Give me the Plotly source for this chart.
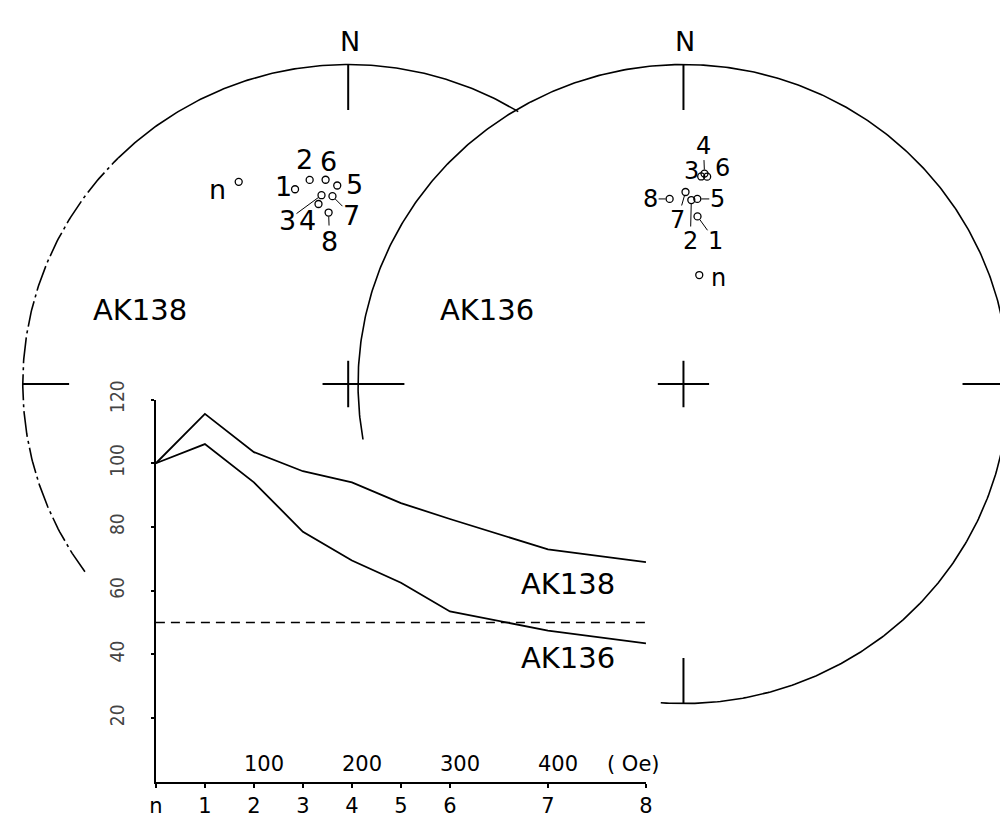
import numpy as np
import plotly.graph_objects as go

# ---------------- data ----------------
steps = ["n", "1", "2", "3", "4", "5", "6", "7", "8"]
field_oe = [0, 50, 100, 150, 200, 250, 300, 400, 500]          # AF field of each step (Oe)
ak138_intensity = [100, 115.5, 103.5, 97.5, 94, 87.5, 82.5, 73, 69]
ak136_intensity = [100, 106, 94, 78.5, 69.5, 62.5, 53.5, 47.5, 43.5]
half_level = 50
oe_ticks = [100, 200, 300, 400]
y_ticks = [20, 40, 60, 80, 100, 120]

# directions (declination, inclination) per step n,1..8
ak138_dec = [332.0, 345.0, 349.5, 352.1, 350.8, 356.9, 353.8, 355.3, 353.6]
ak138_inc = [29.1, 37.0, 35.3, 40.1, 42.4, 37.8, 35.9, 40.7, 45.1]
ak136_dec = [8.1, 4.7, 2.4, 4.8, 5.6, 4.2, 6.4, 0.6, 355.8]
ak136_inc = [61.8, 46.3, 41.9, 35.1, 34.2, 41.5, 35.0, 39.7, 41.5]

# ---------------- layout constants (pixels) ----------------
W, H = 1007, 818
NET1 = dict(cx=346, cy=377, R=330)     # AK138 net
NET2 = dict(cx=686, cy=377, R=330)     # AK136 net
TICK = 47
FONT = "DejaVu Sans, Liberation Sans, sans-serif"

# label offsets (dx, dy in px, leader line?) for step labels
off138 = [(-21, 8, False), (-12, -3, False), (-5, -20, True), (-34, 25, True), (-11, 16, False),
          (17, -1, False), (3, -18, False), (19, 19, True), (1, 29, True)]
off136 = [(19, 3, False), (18, 25, True), (-1, 41, True), (-10, -5, False), (-1, -28, True),
          (20, 0, True), (15, -9, False), (-8, 28, True), (-19, 0, True)]


def project(net, dec, inc):
    dec = np.radians(np.asarray(dec, float))
    inc = np.radians(np.asarray(inc, float))
    rho = net["R"] * np.sqrt(2) * np.sin((np.pi / 2 - np.abs(inc)) / 2)
    return net["cx"] + rho * np.sin(dec), net["cy"] - rho * np.cos(dec)


def arc(net, d0, d1):
    d = np.radians(np.arange(d0, d1 + 0.25, 0.5))
    return net["cx"] + net["R"] * np.sin(d), net["cy"] - net["R"] * np.cos(d)


def ticks(net, which, cross=True):
    xs, ys = [], []
    cx, cy, R = net["cx"], net["cy"], net["R"]
    for w in which:
        d = {"N": 0, "E": 90, "S": 180, "W": 270}[w]
        s, c = np.sin(np.radians(d)), np.cos(np.radians(d))
        xs += [cx + R * s, cx + (R - TICK) * s, None]
        ys += [cy - R * c, cy - (R - TICK) * c, None]
    if cross:
        xs += [cx - 26, cx + 26, None, cx, cx, None]
        ys += [cy, cy, None, cy - 24, cy + 24, None]
    return xs, ys


fig = go.Figure()
line_k = dict(color="black", width=1.6)

# ---- stereonet primitives ----
x, y = arc(NET1, -45, 31.5)
fig.add_trace(go.Scatter(x=x, y=y, mode="lines", line=line_k, hoverinfo="skip"))
x, y = arc(NET1, -126, -45)
fig.add_trace(go.Scatter(x=x, y=y, mode="lines", line=dict(color="black", width=1.6, dash="26px,4px,3px,4px"),
                         hoverinfo="skip"))
x, y = arc(NET2, -100, 184)
fig.add_trace(go.Scatter(x=x, y=y, mode="lines", line=line_k, hoverinfo="skip"))
x, y = ticks(NET1, ["N", "W"])
fig.add_trace(go.Scatter(x=x, y=y, mode="lines", line=dict(color="black", width=2), hoverinfo="skip"))
x, y = ticks(NET2, ["N", "E", "S", "W"])
fig.add_trace(go.Scatter(x=x, y=y, mode="lines", line=dict(color="black", width=2), hoverinfo="skip"))

# ---- stereonet data points ----
annotations = []
for net, dec, inc, offs, fs in [(NET1, ak138_dec, ak138_inc, off138, 27),
                                (NET2, ak136_dec, ak136_inc, off136, 24)]:
    px, py = project(net, dec, inc)
    fig.add_trace(go.Scatter(x=px, y=py, mode="markers", text=steps,
                             marker=dict(symbol="circle-open", size=7, color="black", line=dict(width=1.3)),
                             hoverinfo="text"))
    for lab, xx, yy, (dx, dy, lead) in zip(steps, px, py, offs):
        a = dict(x=xx, y=yy, xref="x", yref="y", text=lab, font=dict(size=fs, family=FONT, color="black"))
        if lead:
            a.update(showarrow=True, ax=dx, ay=dy, arrowhead=0, arrowwidth=1, arrowcolor="black",
                     standoff=4, borderpad=0)
        else:
            a.update(showarrow=False, xshift=dx, yshift=-dy)
        annotations.append(a)

for net in (NET1, NET2):
    annotations.append(dict(x=net["cx"] + 2, y=net["cy"] - net["R"] - 6, xref="x", yref="y", text="N",
                            showarrow=False, yanchor="bottom",
                            font=dict(size=27, family=FONT, color="black")))
annotations.append(dict(x=NET1["cx"] - 211, y=NET1["cy"] - 76, xref="x", yref="y", text="AK138",
                        showarrow=False, font=dict(size=29, family=FONT, color="black")))
annotations.append(dict(x=NET2["cx"] - 199, y=NET2["cy"] - 76, xref="x", yref="y", text="AK136",
                        showarrow=False, font=dict(size=29, family=FONT, color="black")))

# ---- intensity decay chart ----
fig.add_trace(go.Scatter(x=field_oe, y=ak138_intensity, mode="lines", xaxis="x2", yaxis="y2",
                         line=dict(color="black", width=1.8), name="AK138"))
fig.add_trace(go.Scatter(x=field_oe, y=ak136_intensity, mode="lines", xaxis="x2", yaxis="y2",
                         line=dict(color="black", width=1.8), name="AK136"))

annotations.append(dict(x=420, y=62, xref="x2", yref="y2", text="AK138", showarrow=False,
                        font=dict(size=29, family=FONT, color="black")))
annotations.append(dict(x=420, y=39, xref="x2", yref="y2", text="AK136", showarrow=False,
                        font=dict(size=29, family=FONT, color="black")))
# field scale (Oe) written above the step axis
for v in oe_ticks:
    annotations.append(dict(x=v, y=0, xref="x2", yref="y2", text=str(v), showarrow=False,
                            xshift=10, yshift=4, yanchor="bottom",
                            font=dict(size=21, family=FONT, color="black")))
annotations.append(dict(x=487, y=0, xref="x2", yref="y2", text="( Oe)", showarrow=False,
                        yshift=4, yanchor="bottom", font=dict(size=21, family=FONT, color="black")))

fig.update_layout(
    width=W, height=H, margin=dict(l=0, r=0, t=0, b=0),
    paper_bgcolor="white", plot_bgcolor="rgba(0,0,0,0)", showlegend=False,
    xaxis=dict(domain=[0, 1], range=[0, W], visible=False, fixedrange=True),
    yaxis=dict(domain=[0, 1], range=[H, 0], visible=False, fixedrange=True),
    xaxis2=dict(domain=[151 / W, 648 / W], anchor="y2", range=[0, 500],
                tickvals=field_oe, ticktext=steps, ticks="outside", ticklen=4, tickwidth=1.5,
                tickcolor="black", showline=True, linecolor="black", linewidth=1.6,
                showgrid=False, zeroline=False, tickfont=dict(size=21, family=FONT, color="black")),
    yaxis2=dict(domain=[(H - 788) / H, (H - 393) / H], anchor="x2", range=[0, 120],
                tickvals=y_ticks, tickangle=-90, ticks="outside", ticklen=3, tickwidth=2,
                tickcolor="black", showline=True, linecolor="black", linewidth=1.6,
                showgrid=False, zeroline=False, ticklabelstandoff=20,
                tickfont=dict(size=19, family="Liberation Sans Narrow, DejaVu Sans Condensed, sans-serif",
                              color="#444")),
    shapes=[dict(type="line", xref="x2", yref="y2", x0=0, x1=500, y0=half_level, y1=half_level,
                 line=dict(color="black", width=1.5, dash="9px,6px"))],
    annotations=annotations,
)

fig.write_html("out.html")
